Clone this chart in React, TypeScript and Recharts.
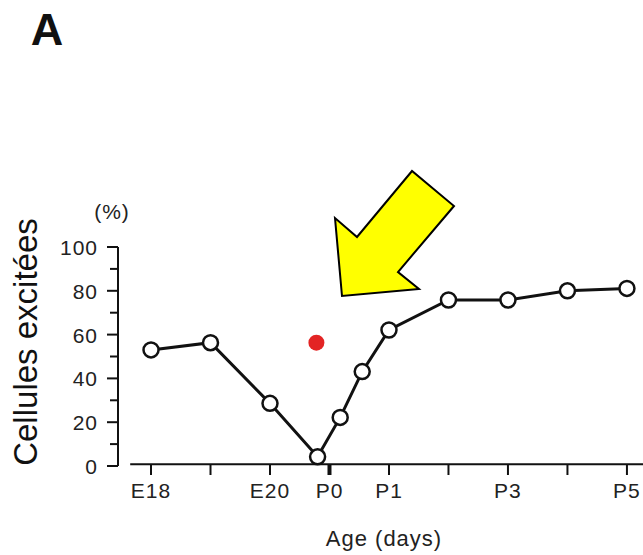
import React from 'react';
import {
  ComposedChart,
  Line,
  Scatter,
  XAxis,
  YAxis,
  ReferenceLine,
} from 'recharts';

// age in days from E18 (E18 = 0, P0 = 3, P5 = 8)
const ages = [0, 1, 2, 2.8, 3.18, 3.55, 4, 5, 6, 7, 8];
const excited = [53, 56.3, 28.6, 4.2, 22.2, 43.1, 62.1, 75.8, 75.8, 80, 81.1];

const markerAge = [2.78];
const markerValue = [56.3];

const xTicks = [0, 1, 2, 3, 4, 5, 6, 7, 8];
const xTickLabels: Record<number, string> = { 0: 'E18', 2: 'E20', 3: 'P0', 4: 'P1', 6: 'P3', 8: 'P5' };
const yTicks = [0, 10, 20, 30, 40, 50, 60, 70, 80, 90, 100];

const lineData = ages.map((a, i) => ({ age: a, value: excited[i] }));
const markerData = markerAge.map((a, i) => ({ age: a, value: markerValue[i] }));

const FONT = 'Liberation Sans, Arial, Helvetica, sans-serif';

const XTick = (props: any) => {
  const { x, y, payload } = props;
  const v = payload.value;
  const bold = v === 3;
  return (
    <g>
      <line x1={x} x2={x} y1={y - 2} y2={y + 9} stroke="#111" strokeWidth={bold ? 4 : 2} />
      {xTickLabels[v] && (
        <text x={x} y={y + 32} textAnchor="middle" fontSize={21} fill="#222" fontFamily={FONT} letterSpacing={1}>
          {xTickLabels[v]}
        </text>
      )}
    </g>
  );
};

const YTick = (props: any) => {
  const { x, y, payload } = props;
  const v = payload.value;
  const major = v % 20 === 0;
  return (
    <g>
      <line x1={x - (major ? 11 : 8)} x2={x} y1={y} y2={y} stroke="#111" strokeWidth={2} />
      {major && (
        <text x={x - 20} y={y + 8} textAnchor="end" fontSize={21} fill="#222" fontFamily={FONT} letterSpacing={1}>
          {v}
        </text>
      )}
    </g>
  );
};

const dot = (props: any) => {
  const { cx, cy, index } = props;
  return <circle key={index} cx={cx} cy={cy} r={7.5} fill="#fff" stroke="#111" strokeWidth={2.5} />;
};

export default function App() {
  return (
    <div style={{ position: 'relative', width: 643, height: 555, background: '#fff', overflow: 'hidden' }}>
      <style>{'html, body { margin: 0; padding: 0; overflow: hidden; }'}</style>
      <ComposedChart
        width={643}
        height={555}
        data={lineData}
        margin={{ top: 247, right: 0, bottom: 49, left: 0 }}
      >
        <XAxis
          dataKey="age"
          type="number"
          domain={[-0.555, 8.27]}
          ticks={xTicks}
          allowDataOverflow
          axisLine={false}
          tickLine={false}
          tickSize={0}
          tickMargin={0}
          height={40}
          tick={<XTick />}
          interval={0}
        />
        <YAxis
          type="number"
          domain={[0, 100]}
          ticks={yTicks}
          width={118}
          axisLine={{ stroke: '#111', strokeWidth: 2 }}
          tickLine={false}
          tickSize={0}
          tickMargin={0}
          tick={<YTick />}
          interval={0}
        />
        <ReferenceLine
          segment={[{ x: -0.35, y: 0.8 }, { x: 8.27, y: 0.8 }]}
          stroke="#111"
          strokeWidth={2}
        />
        <Line
          dataKey="value"
          stroke="#111"
          strokeWidth={3}
          dot={dot}
          activeDot={false}
          isAnimationActive={false}
        />
        <Scatter
          data={markerData}
          dataKey="value"
          fill="#e32424"
          shape={(p: any) => <circle cx={p.cx} cy={p.cy} r={8} fill="#e32424" />}
          isAnimationActive={false}
        />
      </ComposedChart>
      <svg
        width={643}
        height={555}
        style={{ position: 'absolute', left: 0, top: 0, pointerEvents: 'none' }}
      >
        <text x={47} y={45} textAnchor="middle" fontSize={45} fontWeight="bold" fill="#111" fontFamily={FONT}>
          A
        </text>
        <text x={112} y={219} textAnchor="middle" fontSize={21} fill="#222" fontFamily={FONT} letterSpacing={1}>
          (%)
        </text>
        <text
          x={0}
          y={0}
          transform="translate(37,342) rotate(-90)"
          textAnchor="middle"
          fontSize={33}
          fill="#111"
          fontFamily={FONT}
        >
          Cellules excitées
        </text>
        <text x={384} y={546} textAnchor="middle" fontSize={22} fill="#222" fontFamily={FONT} letterSpacing={1}>
          Age (days)
        </text>
        <polygon
          points="342,296 335,218 357,237 412,171 454,206 398,272 419,289"
          fill="#ffff00"
          stroke="#000"
          strokeWidth={2}
          strokeLinejoin="miter"
        />
      </svg>
    </div>
  );
}
